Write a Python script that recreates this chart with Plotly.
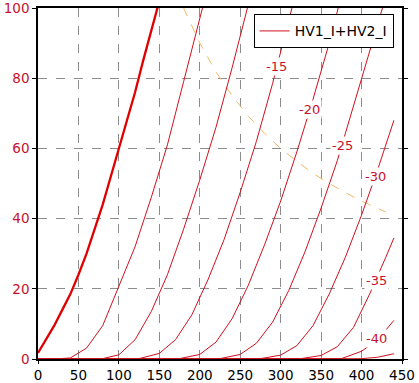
import plotly.graph_objects as go

# Anode voltage (V) / anode current (mA) for each grid voltage
va_g0 = [0, 10, 20, 30, 40, 50, 60, 70, 80, 90, 100, 110, 120, 130, 140, 150]
ia_g0 = [1.7, 5.5, 9.5, 14, 18.5, 24, 30, 37, 44, 52, 60, 68, 76, 85, 93.5, 102]

va_g5 = [0, 20, 40, 60, 80, 100, 120, 140, 160, 180, 200, 220]
ia_g5 = [0, 0, 0.3, 3.1, 9.5, 20.5, 32, 46, 61, 79, 97, 115]

va_g10 = [0, 80, 100, 120, 140, 160, 180, 200, 220, 240, 260]
ia_g10 = [0, 0.1, 1.2, 5.5, 13.5, 24, 37, 51, 66, 83, 101]

va_g15 = [0, 125, 150, 170, 190, 210, 230, 250, 270, 290, 310, 330]
ia_g15 = [0, 0.1, 1.6, 5.5, 12.5, 22.5, 34, 47.5, 62, 78.5, 96.5, 114]

va_g20 = [0, 175, 200, 220, 240, 260, 280, 300, 320, 340, 360, 380]
ia_g20 = [0, 0.1, 1.3, 4.8, 11.5, 21, 32.5, 45, 59, 74, 90, 108]

va_g25 = [0, 225, 250, 270, 290, 310, 330, 350, 370, 390, 410, 430, 440]
ia_g25 = [0, 0.1, 1.3, 4.5, 10.5, 19.5, 30.5, 43, 56.5, 72, 87.5, 103, 111]

va_g30 = [0, 275, 300, 320, 340, 360, 380, 400, 420, 440]
ia_g30 = [0, 0.1, 1.1, 3.8, 9.5, 18.5, 29, 41, 54, 68]

va_g35 = [0, 325, 350, 370, 390, 410, 430, 440]
ia_g35 = [0, 0.1, 1.0, 3.5, 9, 18.5, 29, 34.5]

va_g40 = [0, 375, 400, 420, 440]
ia_g40 = [0, 0.1, 2.2, 5.5, 11]

va_g45 = [0, 400, 420, 440]
ia_g45 = [0, 0.1, 0.5, 1.5]

# Max anode dissipation curve
va_pmax = [180, 200, 220, 240, 260, 280, 300, 320, 340, 360, 380, 400, 420, 430]
ia_pmax = [100, 90, 81.8, 75, 69.2, 64.3, 60, 56.3, 52.9, 50, 47.4, 45, 42.9, 41.9]

# Curve labels (grid voltage) and where they sit
label_text = ["-15", "-20", "-25", "-30", "-35", "-40"]
label_va = [295, 335.6, 377, 417, 419, 418]
label_ia = [83.4, 71.0, 60.9, 52.0, 22.4, 5.8]

x_ticks = [0, 50, 100, 150, 200, 250, 300, 350, 400, 450]
y_ticks = [0, 20, 40, 60, 80, 100]

RED = "#d0101e"
LABEL_RED = "#c8102e"

fig = go.Figure()

fig.add_trace(go.Scatter(
    x=va_pmax, y=ia_pmax, mode="lines",
    line=dict(color="#f2b865", width=1, dash="dash"),
    showlegend=False, hoverinfo="skip"))

thin = [(va_g5, ia_g5), (va_g10, ia_g10), (va_g15, ia_g15), (va_g20, ia_g20),
        (va_g25, ia_g25), (va_g30, ia_g30), (va_g35, ia_g35), (va_g40, ia_g40),
        (va_g45, ia_g45)]

fig.add_trace(go.Scatter(
    x=va_g0, y=ia_g0, mode="lines",
    line=dict(color="#e00000", width=2.3),
    showlegend=False))

for i, (vx, vy) in enumerate(thin):
    fig.add_trace(go.Scatter(
        x=vx, y=vy, mode="lines",
        line=dict(color=RED, width=1),
        name="HV1_I+HV2_I", showlegend=(i == 0)))

for t, lx, ly in zip(label_text, label_va, label_ia):
    fig.add_annotation(
        x=lx, y=ly, xref="x", yref="y", text=t, showarrow=False,
        font=dict(family="DejaVu Sans", size=13, color=LABEL_RED),
        bgcolor="white", borderpad=1)

fig.update_layout(
    width=419, height=383,
    margin=dict(l=38, r=17, t=8, b=24),
    paper_bgcolor="white", plot_bgcolor="white",
    font=dict(family="DejaVu Sans", size=13, color="black"),
    legend=dict(
        x=0.977, y=0.982, xanchor="right", yanchor="top",
        bgcolor="white", bordercolor="black", borderwidth=1,
        font=dict(family="DejaVu Sans", size=14, color="black"),
        itemwidth=30, tracegroupgap=0),
)

fig.update_xaxes(
    range=[0, 450], tickvals=x_ticks, ticktext=[str(v) for v in x_ticks],
    showline=True, linecolor="black", linewidth=1.5, mirror=True,
    showgrid=True, gridcolor="#8c8c8c", griddash="dash", gridwidth=1,
    ticks="outside", ticklen=3, tickcolor="black",
    tickfont=dict(family="DejaVu Sans", size=13.5, color="black"),
    ticklabeloverflow="allow",
    zeroline=False, layer="below traces", automargin=False)

fig.update_yaxes(
    range=[0, 100], tickvals=y_ticks, ticktext=[str(v) for v in y_ticks],
    showline=True, linecolor="black", linewidth=1.5, mirror="ticks",
    showgrid=True, gridcolor="#8c8c8c", griddash="dash", gridwidth=1,
    ticks="outside", ticklen=4, tickcolor="black",
    tickfont=dict(family="DejaVu Sans", size=13.5, color=LABEL_RED),
    ticklabeloverflow="allow",
    zeroline=False, layer="below traces", automargin=False)

fig.write_html(
    "out.html",
    config={"displayModeBar": False},
    post_script="document.body.style.margin='0';document.body.style.overflow='hidden';")
